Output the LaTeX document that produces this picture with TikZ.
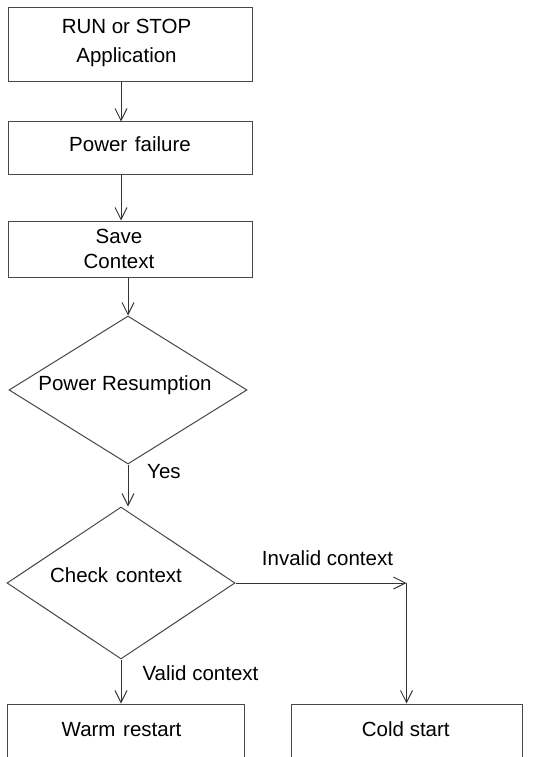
\documentclass[tikz,border=0pt]{standalone}
\usepackage{fontspec}
\setmainfont{Liberation Sans}
\usetikzlibrary{shapes.geometric,arrows.meta}
\begin{document}
\begin{tikzpicture}[x=1pt,y=-1pt,
  shapeline/.style={draw=black!72,line width=1pt},
  stepbox/.style={shapeline,rectangle,inner sep=0pt},
  decision/.style={shapeline,diamond,inner sep=0pt},
  txt/.style={anchor=base,inner sep=0pt,font=\fontsize{20.5}{24}\selectfont},
  arr/.style={draw=black!80,line width=1pt,-{Straight Barb[length=12pt,width=12pt]}}]
\clip (0,0) rectangle (554,757);
\fill[white] (0,0) rectangle (554,757);
% boxes
\node[stepbox,minimum width=244pt,minimum height=74pt] (b1) at (130,45) {};
\node[stepbox,minimum width=244pt,minimum height=52pt] (b2) at (130,148) {};
\node[stepbox,minimum width=244pt,minimum height=56pt] (b3) at (130,249) {};
\node[decision,minimum width=238pt,minimum height=148pt] (d1) at (128,390) {};
\node[decision,minimum width=228pt,minimum height=152pt] (d2) at (121,583) {};
\node[stepbox,minimum width=237pt,minimum height=100pt] (warm) at (125.5,754) {};
\node[stepbox,minimum width=231pt,minimum height=100pt] (cold) at (406.5,754) {};
% texts
\node[txt] (t1a) at (126.5,34) {RUN or STOP};
\node[txt] (t1b) at (126.5,63) {Application};
\node[txt] (t2) at (130,151) {Power\hspace{2pt} failure};
\node[txt] (t3a) at (119,243) {Save};
\node[txt] (t3b) at (119,268) {Context};
\node[txt] (t4) at (125,390) {Power Resumption};
\node[txt] (t5) at (116,582) {Check\hspace{2pt} context};
\node[txt] (t6) at (121.5,736) {Warm\hspace{2pt} restart};
\node[txt] (t7) at (405.8,736) {Cold start};
% labels
\node[txt,anchor=base west] (yes) at (147,478) {Yes};
\node[txt] (inv) at (327.5,565) {Invalid context};
\node[txt] (val) at (200.5,680) {Valid context};
% connectors
\coordinate (corner) at (cold.north |- d2.east);
\draw[arr] ([xshift=-9pt]b1.south) -- ([xshift=-9pt]b2.north);
\draw[arr] ([xshift=-9pt]b2.south) -- ([xshift=-9pt]b3.north);
\draw[arr] (d1.north |- b3.south) -- (d1.north);
\draw[arr] (d1.south) -- (d1.south |- d2.north);
\draw[arr] (d2.south) -- (d2.south |- warm.north);
\draw[arr] (d2.east) -- (corner);
\draw[arr] (corner) -- (cold.north);
\end{tikzpicture}
\end{document}
